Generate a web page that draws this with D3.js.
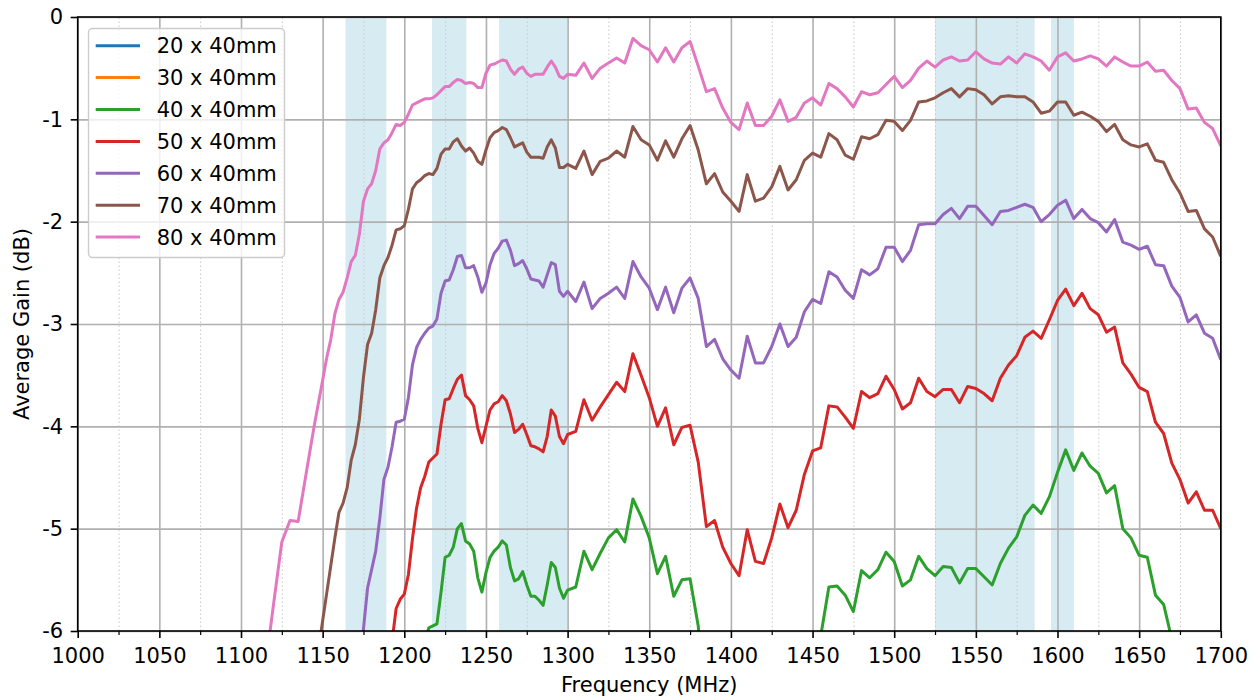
<!DOCTYPE html>
<html><head><meta charset="utf-8">
<script src="https://cdn.jsdelivr.net/npm/d3@7/dist/d3.min.js"></script>
<style>
body{margin:0;background:#fff}
svg{display:block}
text{font-family:"DejaVu Sans",sans-serif;fill:#000}
</style>
</head><body>
<svg id="chart" width="1260" height="700"></svg>
<script>
// ---- data ----
const freqs = [
  1110,1115,1120,1125,1130,1135,1140,1145,1150,
  1152.5,1155,1157.5,1160,1162.5,1165,1167.5,1170,1172.5,1175,
  1177.5,1180,1182.5,1185,1187.5,1190,1192.5,1195,1197.5,1200,
  1202.5,1205,1207.5,1210,1212.5,1215,1217.5,1220,1222.5,1225,
  1227.5,1230,1232.5,1235,1237.5,1240,1242.5,1245,1247.5,1250,
  1252.5,1255,1257.5,1260,1262.5,1265,1267.5,1270,1272.5,1275,
  1277.5,1280,1282.5,1285,1287.5,1290,1292.5,1295,1297.5,1300,
  1305,1310,1315,1320,1325,1330,1335,1340,1345,1350,
  1355,1360,1365,1370,1375,1380,1385,1390,1395,1400,
  1405,1410,1415,1420,1425,1430,1435,1440,1445,1450,
  1455,1460,1465,1470,1475,1480,1485,1490,1495,1500,
  1505,1510,1515,1520,1525,1530,1535,1540,1545,1550,
  1555,1560,1565,1570,1575,1580,1585,1590,1595,1600,
  1605,1610,1615,1620,1625,1630,1635,1640,1645,1650,
  1655,1660,1665,1670,1675,1680,1685,1690,1695,1700
];

// 20 x 40mm and 30 x 40mm stay below the visible range (-6 dB): no visible points
const gain20x40 = [];
const gain30x40 = [];

const gain40x40 = [
  null,null,null,null,null,null,null,null,null,
  null,null,null,null,null,null,null,null,null,null,
  null,null,null,null,null,null,null,null,null,null,
  null,null,null,null,-6.1,-5.97,-5.95,-5.93,-5.62,-5.28,
  -5.26,-5.18,-5.00,-4.95,-5.12,-5.15,-5.22,-5.48,-5.62,-5.43,
  -5.28,-5.22,-5.18,-5.12,-5.16,-5.38,-5.51,-5.49,-5.42,-5.55,
  -5.66,-5.66,-5.70,-5.75,-5.55,-5.33,-5.38,-5.58,-5.68,-5.60,
  -5.57,-5.22,-5.40,-5.24,-5.09,-5.01,-5.13,-4.71,-4.88,-5.09,
  -5.44,-5.27,-5.66,-5.50,-5.49,-5.95,-6.9,null,null,null,
  null,null,null,null,null,null,null,null,null,-7.0,
  -6.05,-5.57,-5.56,-5.65,-5.81,-5.41,-5.48,-5.40,-5.23,-5.32,
  -5.56,-5.50,-5.27,-5.39,-5.46,-5.37,-5.38,-5.53,-5.39,-5.39,
  -5.47,-5.55,-5.34,-5.19,-5.08,-4.87,-4.77,-4.85,-4.69,-4.45,
  -4.23,-4.43,-4.26,-4.39,-4.46,-4.65,-4.58,-5.00,-5.09,-5.26,
  -5.28,-5.65,-5.74,-6.08,-6.6,null,null,null,null,null
];

const gain50x40 = [
  null,null,null,null,null,null,null,null,null,
  null,null,null,null,null,null,null,null,null,null,
  null,null,null,null,null,-6.5,-6.1,-5.78,-5.69,-5.64,
  -5.45,-5.10,-4.80,-4.60,-4.49,-4.35,-4.31,-4.27,-3.98,-3.74,
  -3.73,-3.63,-3.54,-3.50,-3.70,-3.74,-3.80,-4.02,-4.16,-4.00,
  -3.84,-3.78,-3.76,-3.70,-3.75,-3.88,-4.06,-4.03,-3.98,-4.08,
  -4.19,-4.20,-4.22,-4.25,-4.10,-3.84,-3.90,-4.10,-4.17,-4.08,
  -4.05,-3.74,-3.94,-3.81,-3.69,-3.57,-3.66,-3.29,-3.50,-3.72,
  -4.00,-3.82,-4.18,-4.01,-3.99,-4.35,-4.98,-4.92,-5.18,-5.34,
  -5.46,-5.01,-5.32,-5.34,-5.09,-4.76,-4.99,-4.82,-4.47,-4.24,
  -4.21,-3.80,-3.81,-3.91,-4.02,-3.66,-3.72,-3.68,-3.51,-3.64,
  -3.83,-3.77,-3.53,-3.66,-3.71,-3.64,-3.64,-3.77,-3.61,-3.63,
  -3.68,-3.75,-3.53,-3.40,-3.31,-3.13,-3.07,-3.14,-2.96,-2.77,
  -2.66,-2.82,-2.70,-2.85,-2.91,-3.08,-3.03,-3.38,-3.49,-3.62,
  -3.66,-3.96,-4.07,-4.36,-4.52,-4.75,-4.64,-4.82,-4.82,-5.00
];

const gain60x40 = [
  null,null,null,null,null,null,null,null,null,
  null,null,null,null,null,null,null,-6.8,-6.4,-5.98,
  -5.58,-5.40,-5.22,-4.90,-4.52,-4.40,-4.20,-3.96,-3.95,-3.93,
  -3.72,-3.40,-3.23,-3.15,-3.09,-3.04,-3.02,-2.95,-2.70,-2.58,
  -2.57,-2.47,-2.34,-2.33,-2.45,-2.45,-2.43,-2.54,-2.69,-2.60,
  -2.42,-2.31,-2.26,-2.19,-2.18,-2.28,-2.43,-2.41,-2.38,-2.46,
  -2.56,-2.57,-2.58,-2.64,-2.52,-2.40,-2.42,-2.68,-2.73,-2.68,
  -2.78,-2.59,-2.85,-2.75,-2.70,-2.64,-2.75,-2.39,-2.54,-2.65,
  -2.86,-2.64,-2.89,-2.65,-2.55,-2.75,-3.22,-3.15,-3.34,-3.45,
  -3.53,-3.12,-3.38,-3.38,-3.22,-3.00,-3.22,-3.13,-2.88,-2.76,
  -2.80,-2.49,-2.54,-2.67,-2.75,-2.47,-2.52,-2.46,-2.25,-2.25,
  -2.39,-2.28,-2.03,-2.02,-2.02,-1.93,-1.87,-1.97,-1.85,-1.85,
  -1.94,-2.03,-1.90,-1.89,-1.86,-1.83,-1.86,-2.00,-1.93,-1.84,
  -1.79,-1.97,-1.88,-1.97,-2.01,-2.10,-1.98,-2.20,-2.23,-2.27,
  -2.24,-2.42,-2.43,-2.63,-2.74,-2.98,-2.91,-3.09,-3.14,-3.35
];

const gain70x40 = [
  null,null,null,null,null,null,null,-6.45,-5.90,
  -5.63,-5.36,-5.09,-4.84,-4.75,-4.60,-4.33,-4.18,-3.93,-3.52,
  -3.20,-3.09,-2.86,-2.55,-2.43,-2.35,-2.23,-2.08,-2.07,-2.04,
  -1.88,-1.68,-1.62,-1.59,-1.55,-1.53,-1.54,-1.48,-1.34,-1.29,
  -1.29,-1.22,-1.19,-1.26,-1.31,-1.28,-1.33,-1.41,-1.44,-1.30,
  -1.18,-1.13,-1.11,-1.08,-1.10,-1.18,-1.27,-1.25,-1.23,-1.32,
  -1.37,-1.37,-1.37,-1.38,-1.27,-1.20,-1.28,-1.47,-1.47,-1.44,
  -1.48,-1.31,-1.54,-1.41,-1.38,-1.31,-1.37,-1.07,-1.20,-1.25,
  -1.40,-1.21,-1.37,-1.19,-1.06,-1.30,-1.63,-1.53,-1.71,-1.80,
  -1.90,-1.54,-1.80,-1.77,-1.66,-1.46,-1.69,-1.59,-1.40,-1.33,
  -1.37,-1.14,-1.20,-1.35,-1.39,-1.17,-1.19,-1.15,-1.01,-1.02,
  -1.11,-1.01,-0.83,-0.82,-0.79,-0.74,-0.70,-0.78,-0.70,-0.71,
  -0.76,-0.85,-0.78,-0.77,-0.78,-0.78,-0.83,-0.94,-0.92,-0.83,
  -0.83,-0.96,-0.93,-0.97,-1.02,-1.12,-1.05,-1.20,-1.25,-1.27,
  -1.24,-1.40,-1.42,-1.59,-1.72,-1.90,-1.89,-2.07,-2.15,-2.34
];

const gain80x40 = [
  null,-6.35,-5.73,-5.13,-4.92,-4.93,-4.45,-3.98,-3.55,
  -3.33,-3.15,-2.90,-2.76,-2.69,-2.55,-2.39,-2.33,-2.12,-1.80,
  -1.68,-1.63,-1.50,-1.29,-1.23,-1.20,-1.13,-1.05,-1.06,-1.03,
  -0.95,-0.86,-0.84,-0.82,-0.80,-0.80,-0.79,-0.76,-0.72,-0.68,
  -0.68,-0.64,-0.61,-0.62,-0.65,-0.64,-0.65,-0.69,-0.69,-0.55,
  -0.47,-0.46,-0.44,-0.42,-0.43,-0.51,-0.56,-0.51,-0.49,-0.55,
  -0.58,-0.56,-0.56,-0.56,-0.49,-0.43,-0.49,-0.58,-0.60,-0.56,
  -0.57,-0.45,-0.60,-0.50,-0.45,-0.40,-0.45,-0.21,-0.28,-0.32,
  -0.44,-0.30,-0.44,-0.30,-0.24,-0.48,-0.73,-0.70,-0.89,-1.03,
  -1.10,-0.84,-1.06,-1.06,-0.97,-0.81,-1.02,-0.98,-0.84,-0.79,
  -0.86,-0.65,-0.70,-0.78,-0.88,-0.73,-0.76,-0.74,-0.66,-0.58,
  -0.69,-0.62,-0.50,-0.43,-0.49,-0.42,-0.39,-0.43,-0.42,-0.34,
  -0.41,-0.45,-0.46,-0.39,-0.45,-0.36,-0.39,-0.43,-0.52,-0.39,
  -0.35,-0.43,-0.41,-0.38,-0.41,-0.48,-0.39,-0.44,-0.48,-0.48,
  -0.44,-0.53,-0.52,-0.62,-0.70,-0.90,-0.89,-1.03,-1.09,-1.26
];

const seriesNames = ["20 x 40mm","30 x 40mm","40 x 40mm","50 x 40mm","60 x 40mm","70 x 40mm","80 x 40mm"];
const seriesValues = [gain20x40, gain30x40, gain40x40, gain50x40, gain60x40, gain70x40, gain80x40];
const seriesColors = ["#1f77b4","#ff7f0e","#2ca02c","#d62728","#9467bd","#8c564b","#e377c2"];

// shaded frequency bands (MHz)
const bandStarts = [1164, 1217, 1258, 1525, 1596];
const bandEnds   = [1189, 1238, 1300, 1586, 1610];

const xTicks = [1000,1050,1100,1150,1200,1250,1300,1350,1400,1450,1500,1550,1600,1650,1700];
const xMinorTicks = [1025,1075,1125,1175,1225,1275,1325,1375,1425,1475,1525,1575,1625,1675];
const yTicks = [-6,-5,-4,-3,-2,-1,0];
const yTickLabels = ["-6","-5","-4","-3","-2","-1","0"];

// ---- drawing ----
const svg = d3.select("#chart");
const L = 77.7, R = 1220.8, T = 17, B = 631;
const x = d3.scaleLinear().domain([1000,1700]).range([L,R]);
const y = d3.scaleLinear().domain([-6,0]).range([B,T]);
const FS = 21;

svg.append("defs").append("clipPath").attr("id","plotclip")
  .append("rect").attr("x",L).attr("y",T).attr("width",R-L).attr("height",B-T);

// bands
svg.append("g").selectAll("rect").data(bandStarts).join("rect")
  .attr("x",(d)=>x(d)).attr("y",T)
  .attr("width",(d,i)=>x(bandEnds[i])-x(d)).attr("height",B-T)
  .attr("fill","#add8e6").attr("fill-opacity",0.5);

// minor grid (x)
const gMinor = svg.append("g").attr("transform",`translate(0,${B})`)
  .call(d3.axisBottom(x).tickValues(xMinorTicks).tickSize(-(B-T)).tickFormat(""));
gMinor.select(".domain").remove();
gMinor.selectAll("line").attr("stroke","#c8c8c8").attr("stroke-width",1).attr("stroke-dasharray","1.5,2.5");

// major grid
const gGx = svg.append("g").attr("transform",`translate(0,${B})`)
  .call(d3.axisBottom(x).tickValues(xTicks).tickSize(-(B-T)).tickFormat(""));
gGx.select(".domain").remove();
gGx.selectAll("line").attr("stroke","#b0b0b0").attr("stroke-width",1.6);
const gGy = svg.append("g").attr("transform",`translate(${L},0)`)
  .call(d3.axisLeft(y).tickValues(yTicks).tickSize(-(R-L)).tickFormat(""));
gGy.select(".domain").remove();
gGy.selectAll("line").attr("stroke","#b0b0b0").attr("stroke-width",1.6);

// lines
const line = d3.line()
  .defined(d => d[1] !== null && d[1] !== undefined)
  .x(d => x(d[0])).y(d => y(d[1]));
const gLines = svg.append("g").attr("clip-path","url(#plotclip)");
seriesValues.forEach((vals,i) => {
  const pts = vals.map((v,j) => [freqs[j], v]);
  if (!pts.length) return;
  gLines.append("path").datum(pts)
    .attr("fill","none").attr("stroke",seriesColors[i])
    .attr("stroke-width",3).attr("stroke-linejoin","round").attr("stroke-linecap","butt")
    .attr("d",line);
});

// spines
svg.append("rect").attr("x",L).attr("y",T).attr("width",R-L).attr("height",B-T)
  .attr("fill","none").attr("stroke","#000").attr("stroke-width",1.6);

// axes ticks + labels
const gx = svg.append("g").attr("transform",`translate(0,${B})`)
  .call(d3.axisBottom(x).tickValues(xTicks).tickSize(7).tickPadding(10).tickFormat(d3.format("d")));
gx.select(".domain").remove();
gx.selectAll("line").attr("stroke","#000").attr("stroke-width",1.6);
gx.selectAll("text").attr("font-size",FS).attr("font-family","DejaVu Sans").attr("fill","#000");

const gxm = svg.append("g").attr("transform",`translate(0,${B})`)
  .call(d3.axisBottom(x).tickValues(xMinorTicks).tickSize(4).tickFormat(""));
gxm.select(".domain").remove();
gxm.selectAll("line").attr("stroke","#000").attr("stroke-width",1.2);

const gy = svg.append("g").attr("transform",`translate(${L},0)`)
  .call(d3.axisLeft(y).tickValues(yTicks).tickSize(7).tickPadding(7.5).tickFormat((d,i)=>yTickLabels[i]));
gy.select(".domain").remove();
gy.selectAll("line").attr("stroke","#000").attr("stroke-width",1.6);
gy.selectAll("text").attr("font-size",FS).attr("font-family","DejaVu Sans").attr("fill","#000");

// axis titles
svg.append("text").attr("x",(L+R)/2).attr("y",692).attr("text-anchor","middle")
  .attr("font-size",FS).text("Frequency (MHz)");
svg.append("text").attr("transform",`translate(29,${(T+B)/2}) rotate(-90)`)
  .attr("text-anchor","middle").attr("font-size",FS).text("Average Gain (dB)");

// legend
const lg = svg.append("g");
lg.append("rect").attr("x",88.5).attr("y",28.5).attr("width",196).attr("height",229)
  .attr("rx",4).attr("fill","#fff").attr("fill-opacity",0.8)
  .attr("stroke","#cccccc").attr("stroke-width",1.4);
seriesNames.forEach((name,i) => {
  const ry = 45.7 + i*31.9;
  lg.append("line").attr("x1",95.7).attr("x2",140).attr("y1",ry).attr("y2",ry)
    .attr("stroke",seriesColors[i]).attr("stroke-width",3);
  lg.append("text").attr("x",156.7).attr("y",ry+7.6).attr("font-size",FS).text(name);
});
</script>
</body></html>
